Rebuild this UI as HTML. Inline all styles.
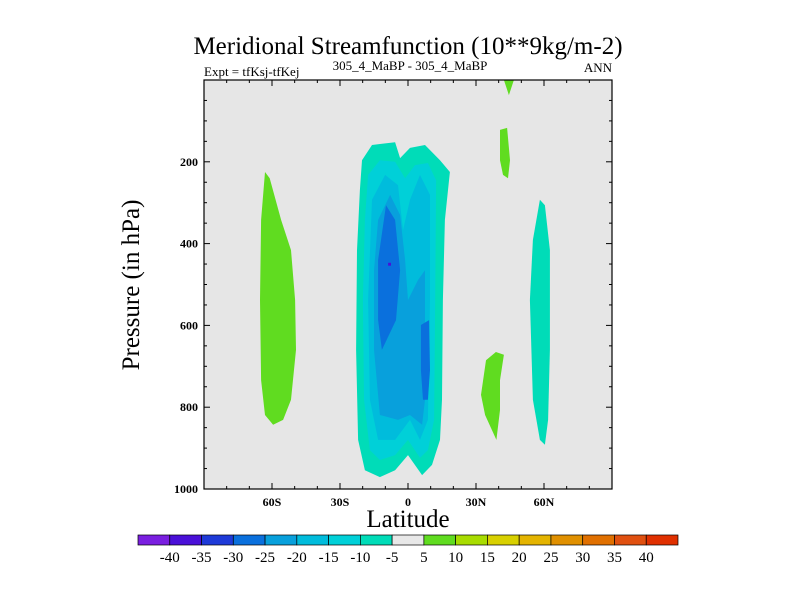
<!DOCTYPE html>
<html><head><meta charset="utf-8"><style>
body{margin:0;background:#fff;}
svg{display:block;font-family:"Liberation Serif",serif;}
</style></head><body>
<svg width="800" height="600" viewBox="0 0 800 600">
<text x="408" y="54" text-anchor="middle" font-size="25">Meridional Streamfunction (10**9kg/m-2)</text>
<text x="204" y="76" font-size="13">Expt = tfKsj-tfKej</text>
<text x="410" y="70" text-anchor="middle" font-size="13">305_4_MaBP - 305_4_MaBP</text>
<text x="612" y="72" text-anchor="end" font-size="13">ANN</text>
<rect x="204" y="80" width="408" height="409" fill="#e6e6e6"/>
<g id="regions"></g>
<g id="axes"></g>
<text x="408" y="527" text-anchor="middle" font-size="25">Latitude</text>
<text transform="translate(139,285) rotate(-90)" text-anchor="middle" font-size="25">Pressure (in hPa)</text>
<g id="cbar"></g>
</svg>
<script>
const levels=[-40,-35,-30,-25,-20,-15,-10,-5,5,10,15,20,25,30,35,40];
const colors=["#7a1fe0","#4a10d8","#1e3ad8","#0a70dd","#08a0dc","#00bcdc","#00d0d8","#00dcb8","#e8e8e8","#60dc20","#a8dc00","#d8d000","#e4b400","#e09000","#e07000","#e05010","#e03000"];
const xTicks=[-60,-30,0,30,60];
const xTickLabels=["60S","30S","0","30N","60N"];
const yTicks=[200,400,600,800,1000];
// contour regions: [colorIndex, [[lat,p],...]]
const regionMain5=[[-20.3,196],[-15.9,159],[-5.7,152],[-3.5,191],[0.9,166],[7.5,159],[14.1,196],[18.5,225],[16.3,342],[15.4,538],[15,782],[14.1,880],[10.6,941],[6.2,966],[0,917],[-5.7,954],[-12.4,971],[-19,954],[-22,880],[-22.9,660],[-22.5,416],[-21.2,269]];
const regionMain10=[[-17.6,232],[-12.4,196],[-5.7,200],[-1.3,240],[3.1,208],[8.8,203],[12.4,245],[12,538],[11.5,831],[8.8,905],[5.3,924],[0,880],[-5.7,917],[-12.4,929],[-16.8,905],[-19.4,782],[-19.9,538],[-19,342]];
const regionMain15=[[-15.9,293],[-10.1,232],[-4.4,257],[-2.2,367],[0.9,293],[5.3,232],[9.7,281],[9.7,538],[8.8,831],[5.3,880],[0.9,831],[-5.7,880],[-13.2,880],[-16.8,782],[-17.6,538]];
const regionMain20=[[-13.2,342],[-7.9,281],[-3.5,330],[-1.3,440],[0,538],[4.4,489],[7.5,465],[7.5,782],[6.2,843],[0.9,819],[-4.4,831],[-12.4,819],[-15,660],[-15,465]];
const regionMain25a=[[-13.2,440],[-9.7,306],[-5.7,342],[-3.5,465],[-5.3,587],[-11.5,660],[-13.2,587]];
const regionMain25b=[[5.7,599],[9.3,587],[9.7,709],[8.8,782],[6.6,782],[5.7,709]];
const regionMain30=[[-8.8,447],[-7.5,447],[-7.5,454],[-8.8,454]];
const regionLeft=[[-63.1,225],[-61,240],[-56,342],[-51.6,416],[-49.8,538],[-49.4,660],[-51.6,782],[-55.1,831],[-59.5,843],[-63.1,819],[-64.8,734],[-65.3,538],[-64.8,342]];
const regionRight1=[[42.3,672],[38.8,665],[34.4,685],[32.2,770],[34,819],[39,880],[40.6,807],[40.6,734]];
const regionRight2=[[40.6,122],[43.7,117],[45,196],[44.1,240],[41.9,232],[40.6,196]];
const regionRight3=[[42.3,0],[46.7,0],[44.5,37]];
const regionTeal=[[58.2,293],[60.4,306],[62.6,416],[62.6,660],[61.8,831],[60.4,892],[58.2,880],[55.1,782],[53.8,538],[55.1,391]];
const regions=[[7,regionMain5],[6,regionMain10],[5,regionMain15],[4,regionMain20],[3,regionMain25a],[3,regionMain25b],[1,regionMain30],[9,regionLeft],[9,regionRight1],[9,regionRight2],[9,regionRight3],[7,regionTeal]];

const X0=204,X1=612,Y0=80,Y1=489;
const xs=lat=>X0+(lat+90)/180*(X1-X0);
const ys=p=>Y0+p/1000*(Y1-Y0);
const NS="http://www.w3.org/2000/svg";
function mk(tag,attrs,parent){const e=document.createElementNS(NS,tag);for(const k in attrs)e.setAttribute(k,attrs[k]);parent.appendChild(e);return e;}
const rg=document.getElementById('regions');
regions.forEach(r=>{
  const pts=r[1].map(q=>xs(q[0]).toFixed(1)+","+ys(q[1]).toFixed(1)).join(" ");
  const el=mk('polygon',{points:pts,fill:colors[r[0]]},rg);
  
  
});
const ax=document.getElementById('axes');
const fr=mk('rect',{x:X0,y:Y0,width:X1-X0,height:Y1-Y0,fill:"none",stroke:"#000","stroke-width":1.2},ax);


for(let lat=-80;lat<=80;lat+=10){
  const major=lat%30===0, L=major?6:3, x=xs(lat);
  mk('line',{x1:x,x2:x,y1:Y1,y2:Y1-L,stroke:"#000"},ax);
  mk('line',{x1:x,x2:x,y1:Y0,y2:Y0+L,stroke:"#000"},ax);
}
for(let p=50;p<1000;p+=50){
  const major=p%200===0, L=major?6:3, y=ys(p);
  mk('line',{x1:X0,x2:X0+L,y1:y,y2:y,stroke:"#000"},ax);
  mk('line',{x1:X1,x2:X1-L,y1:y,y2:y,stroke:"#000"},ax);
}
xTicks.forEach((v,i)=>{
  const t=mk('text',{x:xs(v),y:Y1+17,"text-anchor":"middle","font-size":12,"font-weight":"bold"},ax);
  t.textContent=xTickLabels[i];
  
  
});
yTicks.forEach(v=>{
  const t=mk('text',{x:X0-6,y:ys(v)+4,"text-anchor":"end","font-size":12,"font-weight":"bold"},ax);
  t.textContent=v;
  
  
});
const cb=document.getElementById('cbar');
const CB0=138,CB1=678,CBY=535,CBH=10,bw=(CB1-CB0)/colors.length;
colors.forEach((c,i)=>{
  const r=mk('rect',{x:CB0+i*bw,y:CBY,width:bw,height:CBH,fill:c,stroke:"#000","stroke-width":0.7},cb);
  
  
});
levels.forEach((v,i)=>{
  const t=mk('text',{x:CB0+(i+1)*bw,y:CBY+27,"text-anchor":"middle","font-size":15},cb);
  t.textContent=v;
  
  
});
</script>
</body></html>
